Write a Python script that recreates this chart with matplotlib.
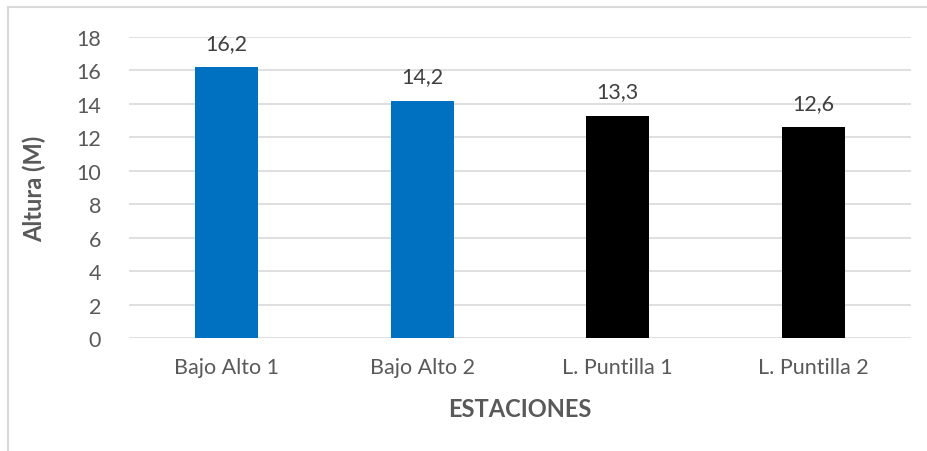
import matplotlib
matplotlib.use('Agg')
import matplotlib.pyplot as plt
from matplotlib.patches import Rectangle

# datos
estaciones = ['Bajo Alto 1', 'Bajo Alto 2', 'L. Puntilla 1', 'L. Puntilla 2']
altura = [16.2, 14.2, 13.3, 12.6]
colores = ['#0070C0', '#0070C0', '#000000', '#000000']
etiquetas = ['16,2', '14,2', '13,3', '12,6']

plt.rcParams['font.family'] = ['Lato', 'DejaVu Sans']
gris = '#595959'

fig = plt.figure(figsize=(9.28, 4.52), dpi=100)
ax = fig.add_axes([129 / 928, 1 - 339 / 452, (911 - 129) / 928, (339 - 38) / 452])

# borde del gráfico
fig.patches.append(Rectangle((8 / 928, -0.1), 1.2, 1 - 8 / 452 + 0.1, transform=fig.transFigure,
                             fill=False, edgecolor='#D9D9D9', linewidth=1.5))

x = range(len(estaciones))
ax.bar(x, altura, width=0.32, color=colores, zorder=3)

for i, v in enumerate(altura):
    ax.text(i, v + 0.85, etiquetas[i], ha='center', va='bottom', fontsize=15.5, color='#404040')

ax.set_xlim(-0.5, 3.5)
ax.set_ylim(0, 18)
ax.set_yticks(range(0, 19, 2))
ax.set_xticks(list(x))
ax.set_xticklabels(estaciones)
ax.grid(axis='y', color='#D9D9D9', linewidth=1.2, zorder=0)
for s in ax.spines.values():
    s.set_visible(False)
ax.tick_params(length=0, labelsize=15.5, colors=gris, pad=14)
ax.tick_params(axis='y', pad=20)

ax.set_ylabel('Altura (M)', fontsize=17, fontweight='bold', color=gris, labelpad=10)
ax.set_xlabel('ESTACIONES', fontsize=17, fontweight='bold', color=gris, labelpad=14)
ax.yaxis.set_label_coords(-0.106, 0.5)

fig.savefig('out.png', dpi=100)
